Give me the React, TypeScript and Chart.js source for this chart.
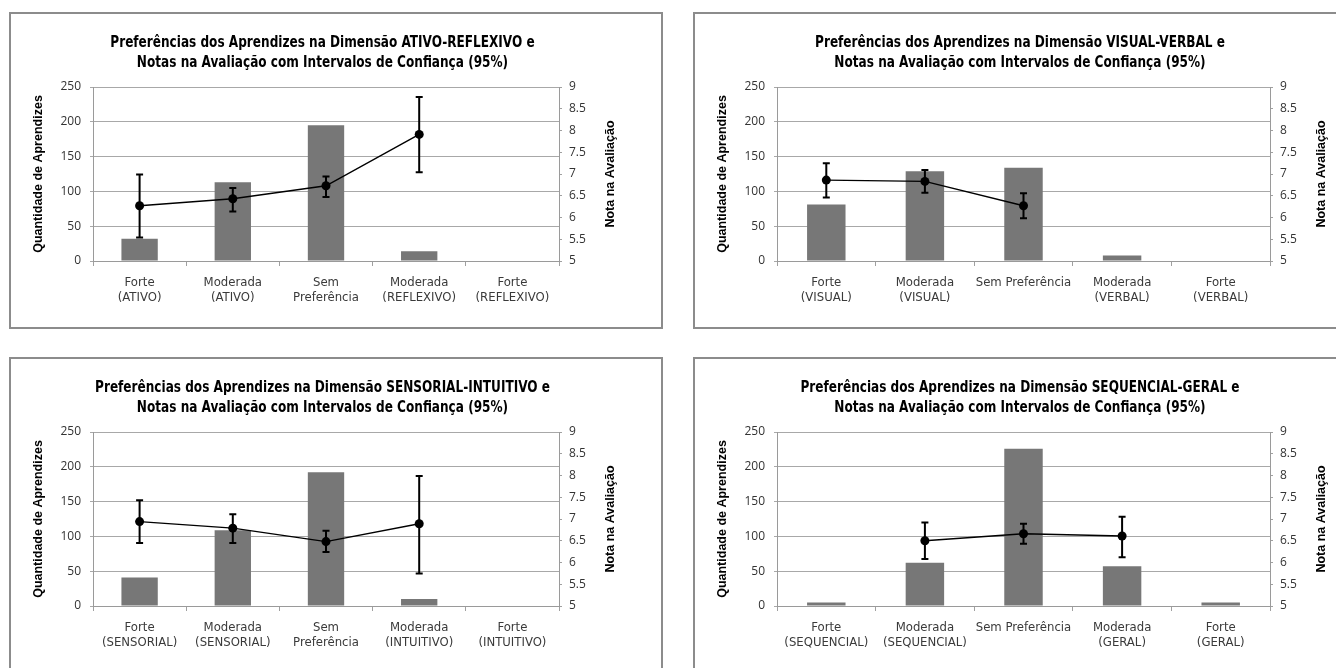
import React, { useEffect, useRef } from "react";
import { Chart, registerables } from "chart.js";

Chart.register(...registerables);

const FONT_NARROW = "'Liberation Sans Narrow', 'DejaVu Sans Condensed', 'Arial Narrow', sans-serif";
const FONT_TICK = "'Open Sans', 'DejaVu Sans', sans-serif";
const FONT_AXIS = "'Liberation Sans', Arial, sans-serif";

// ---------- data ----------
const titleLine2 = "Notas na Avaliação com Intervalos de Confiança (95%)";
const yLeftTicks = [0, 50, 100, 150, 200, 250];
const yRightTicks = [5, 5.5, 6, 6.5, 7, 7.5, 8, 8.5, 9];

const ativoTitle = "Preferências dos Aprendizes na Dimensão ATIVO-REFLEXIVO e";
const ativoCategories = [["Forte", "(ATIVO)"], ["Moderada", "(ATIVO)"], ["Sem", "Preferência"], ["Moderada", "(REFLEXIVO)"], ["Forte", "(REFLEXIVO)"]];
const ativoCounts = [32, 113, 195, 14, 0];
const ativoMeans = [6.27, 6.43, 6.73, 7.91, null];
const ativoLower = [5.54, 6.14, 6.47, 7.04, null];
const ativoUpper = [6.99, 6.68, 6.94, 8.77, null];

const visualTitle = "Preferências dos Aprendizes na Dimensão VISUAL-VERBAL e";
const visualCategories = [["Forte", "(VISUAL)"], ["Moderada", "(VISUAL)"], "Sem Preferência", ["Moderada", "(VERBAL)"], ["Forte", "(VERBAL)"]];
const visualCounts = [81, 129, 134, 8, 0];
const visualMeans = [6.86, 6.83, 6.27, null, null];
const visualLower = [6.46, 6.57, 5.98, null, null];
const visualUpper = [7.25, 7.09, 6.56, null, null];

const sensorialTitle = "Preferências dos Aprendizes na Dimensão SENSORIAL-INTUITIVO e";
const sensorialCategories = [["Forte", "(SENSORIAL)"], ["Moderada", "(SENSORIAL)"], ["Sem", "Preferência"], ["Moderada", "(INTUITIVO)"], ["Forte", "(INTUITIVO)"]];
const sensorialCounts = [41, 109, 192, 10, 0];
const sensorialMeans = [6.94, 6.79, 6.48, 6.89, null];
const sensorialLower = [6.45, 6.45, 6.24, 5.75, null];
const sensorialUpper = [7.43, 7.11, 6.73, 7.99, null];

const sequencialTitle = "Preferências dos Aprendizes na Dimensão SEQUENCIAL-GERAL e";
const sequencialCategories = [["Forte", "(SEQUENCIAL)"], ["Moderada", "(SEQUENCIAL)"], "Sem Preferência", ["Moderada", "(GERAL)"], ["Forte", "(GERAL)"]];
const sequencialCounts = [5, 62, 226, 57, 5];
const sequencialMeans = [null, 6.5, 6.66, 6.61, null];
const sequencialLower = [null, 6.08, 6.43, 6.12, null];
const sequencialUpper = [null, 6.92, 6.89, 7.05, null];

const leftAxisTitle = "Quantidade de Aprendizes";
const rightAxisTitle = "Nota na Avaliação";

type PanelProps = {
  left: number;
  top: number;
  width: number;
  height: number;
  plotRight: number;
  title: string;
  categories: any[];
  counts: number[];
  means: (number | null)[];
  lower: (number | null)[];
  upper: (number | null)[];
};

const PLOT_LEFT = 84;
const PLOT_TOP = 75;
const PLOT_BOTTOM = 249;
const TITLE_SQUEEZE = 0.84;

function Panel(p: PanelProps) {
  const ref = useRef<HTMLCanvasElement>(null);

  useEffect(() => {
    const canvas = ref.current;
    if (!canvas) return;

    const decor = {
      id: "decor",
      afterDatasetsDraw(chart: any) {
        const ctx = chart.ctx;
        const xs = chart.scales.x;
        const ys = chart.scales.y2;
        ctx.save();
        ctx.strokeStyle = "#000";
        ctx.lineWidth = 2;
        for (let i = 0; i < p.means.length; i++) {
          const lo = p.lower[i];
          const hi = p.upper[i];
          if (lo == null || hi == null) continue;
          const x = xs.getPixelForValue(i);
          const yLo = ys.getPixelForValue(lo);
          const yHi = ys.getPixelForValue(hi);
          ctx.beginPath();
          ctx.moveTo(x, yLo);
          ctx.lineTo(x, yHi);
          ctx.moveTo(x - 3.5, yLo);
          ctx.lineTo(x + 3.5, yLo);
          ctx.moveTo(x - 3.5, yHi);
          ctx.lineTo(x + 3.5, yHi);
          ctx.stroke();
        }
        ctx.restore();
      },
      afterDraw(chart: any) {
        const ctx = chart.ctx;
        const area = chart.chartArea;
        ctx.save();
        // titles (condensed)
        const cx = (area.left + area.right) / 2 - 3.5;
        ctx.fillStyle = "#000";
        ctx.textAlign = "center";
        ctx.textBaseline = "alphabetic";
        ctx.font = "bold 16px " + FONT_NARROW;
        [p.title, titleLine2].forEach((t, k) => {
          ctx.save();
          ctx.translate(cx, 35 + k * 20);
          ctx.scale(TITLE_SQUEEZE, 1);
          ctx.fillText(t, 0, 0);
          ctx.restore();
        });
        // axis titles
        const cy = (area.top + area.bottom) / 2;
        ctx.font = "bold 12.5px " + FONT_AXIS;
        ctx.textBaseline = "middle";
        ctx.save();
        ctx.translate(29.5, cy);
        ctx.rotate(-Math.PI / 2);
        ctx.fillText(leftAxisTitle, 0, 0);
        ctx.restore();
        ctx.save();
        ctx.translate(area.right + 52, cy);
        ctx.rotate(-Math.PI / 2);
        ctx.fillText(rightAxisTitle, 0, 0);
        ctx.restore();
        // border
        ctx.strokeStyle = "#8c8c8c";
        ctx.lineWidth = 2;
        ctx.strokeRect(1, 1, p.width - 2, p.height - 2);
        ctx.restore();
      },
    };

    const chart = new Chart(canvas, {
      type: "bar",
      data: {
        labels: p.categories,
        datasets: [
          {
            type: "line",
            data: p.means,
            yAxisID: "y2",
            borderColor: "#000",
            borderWidth: 1.4,
            pointRadius: 4.5,
            pointBackgroundColor: "#000",
            pointBorderColor: "#000",
            pointBorderWidth: 0,
            spanGaps: false,
            tension: 0,
            order: 0,
          } as any,
          {
            type: "bar",
            data: p.counts,
            yAxisID: "y",
            backgroundColor: "#777777",
            borderWidth: 0,
            barPercentage: 0.39,
            categoryPercentage: 1,
            order: 1,
          } as any,
        ],
      },
      options: {
        responsive: false,
        animation: false,
        events: [],
        layout: { padding: { top: PLOT_TOP, left: 0, right: 0, bottom: 0 } },
        plugins: { legend: { display: false }, tooltip: { enabled: false }, title: { display: false } },
        scales: {
          x: {
            offset: true,
            grid: { display: true, drawOnChartArea: false, drawTicks: true, tickLength: 5, color: "#a0a0a0", offset: true },
            border: { display: true, color: "#9a9a9a", width: 1 },
            ticks: { font: { family: FONT_NARROW, size: 13, lineHeight: 1.17 }, color: "#3a3a3a", padding: 9, maxRotation: 0, minRotation: 0, autoSkip: false },
            afterFit: (s: any) => { s.height = p.height - PLOT_BOTTOM; },
          },
          y: {
            type: "linear",
            position: "left",
            min: yLeftTicks[0],
            max: yLeftTicks[yLeftTicks.length - 1],
            afterBuildTicks: (s: any) => { s.ticks = yLeftTicks.map((v) => ({ value: v })); },
            ticks: { font: { family: FONT_TICK, size: 12 }, color: "#333", padding: 9 },
            grid: { color: "#a8a8a8", tickLength: 3, drawTicks: true, lineWidth: 1 },
            border: { display: true, color: "#9a9a9a", width: 1 },
            afterFit: (s: any) => { s.width = PLOT_LEFT; },
          },
          y2: {
            type: "linear",
            position: "right",
            min: yRightTicks[0],
            max: yRightTicks[yRightTicks.length - 1],
            afterBuildTicks: (s: any) => { s.ticks = yRightTicks.map((v) => ({ value: v })); },
            ticks: { font: { family: FONT_TICK, size: 12 }, color: "#333", padding: 7, callback: (v: any) => String(v) },
            grid: { drawOnChartArea: false, tickLength: 3, color: "#a0a0a0" },
            border: { display: true, color: "#9a9a9a", width: 1 },
            afterFit: (s: any) => { s.width = p.width - p.plotRight; },
          },
        },
      } as any,
      plugins: [decor],
    });
    return () => chart.destroy();
  }, []);

  return (
    <canvas
      ref={ref}
      width={p.width}
      height={p.height}
      style={{ position: "absolute", left: p.left, top: p.top, width: p.width, height: p.height }}
    />
  );
}

export default function App() {
  return (
    <div style={{ position: "absolute", left: 0, top: 0, width: 1336, height: 668, overflow: "hidden", background: "#fff" }}>
      <Panel left={9} top={12} width={654} height={317} plotRight={550} title={ativoTitle}
        categories={ativoCategories} counts={ativoCounts} means={ativoMeans} lower={ativoLower} upper={ativoUpper} />
      <Panel left={693} top={12} width={680} height={317} plotRight={577} title={visualTitle}
        categories={visualCategories} counts={visualCounts} means={visualMeans} lower={visualLower} upper={visualUpper} />
      <Panel left={9} top={357} width={654} height={317} plotRight={550} title={sensorialTitle}
        categories={sensorialCategories} counts={sensorialCounts} means={sensorialMeans} lower={sensorialLower} upper={sensorialUpper} />
      <Panel left={693} top={357} width={680} height={317} plotRight={577} title={sequencialTitle}
        categories={sequencialCategories} counts={sequencialCounts} means={sequencialMeans} lower={sequencialLower} upper={sequencialUpper} />
    </div>
  );
}
